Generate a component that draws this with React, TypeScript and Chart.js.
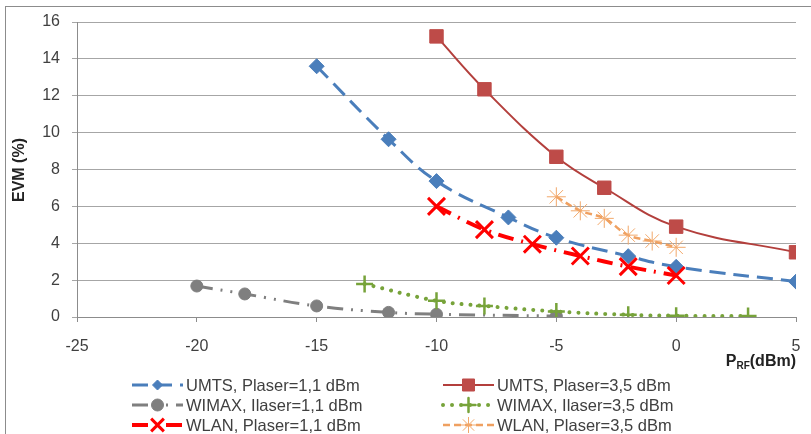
import React, { useEffect, useRef } from "react";
import { Chart, registerables } from "chart.js";
import { drawPoint } from "chart.js/helpers";

Chart.register(...registerables);

// ---- Data ----
const xTicks = [-25, -20, -15, -10, -5, 0, 5];
const yTicks = [0, 2, 4, 6, 8, 10, 12, 14, 16];

const seriesNames = [
  "UMTS, Plaser=1,1 dBm",
  "UMTS, Plaser=3,5 dBm",
  "WIMAX, Ilaser=1,1 dBm",
  "WIMAX, Ilaser=3,5 dBm",
  "WLAN, Plaser=1,1 dBm",
  "WLAN, Plaser=3,5 dBm",
];

const xUMTS11 = [-15, -12, -10, -7, -5, -2, 0, 5];
const yUMTS11 = [13.6, 9.64, 7.37, 5.4, 4.3, 3.3, 2.72, 1.92];
const xUMTS35 = [-10, -8, -5, -3, 0, 5];
const yUMTS35 = [15.22, 12.35, 8.69, 7.01, 4.9, 3.51];
const xWIMAX11 = [-20, -18, -15, -12, -10, -5];
const yWIMAX11 = [1.68, 1.25, 0.6, 0.25, 0.15, 0.05];
const xWIMAX35 = [-13, -10, -8, -5, -2, 0, 3];
const yWIMAX35 = [1.79, 0.88, 0.6, 0.3, 0.12, 0.07, 0.05];
const xWLAN11 = [-10, -8, -6, -4, -2, 0];
const yWLAN11 = [6.0, 4.74, 3.95, 3.31, 2.73, 2.25];
const xWLAN35 = [-5, -4, -3, -2, -1, 0];
const yWLAN35 = [6.52, 5.76, 5.35, 4.44, 4.12, 3.78];

const pts = (xs: number[], ys: number[]) => xs.map((x, i) => ({ x, y: ys[i] }));

const FONT = "'Liberation Sans', Arial, sans-serif";
const TEXT = "#404040";

type Style = {
  line: string;
  fill: string;
  width: number;
  dash: number[];
  cap: CanvasLineCap;
  point: string;
  radius: number;
  pw: number;
  legendRadius: number;
};

const styles: Style[] = [
  { line: "#4A7EBB", fill: "#4A7EBB", width: 3, dash: [16, 8], cap: "butt", point: "rectRot", radius: 7.5, pw: 1, legendRadius: 5 },
  { line: "#B33F3C", fill: "#BE4B48", width: 2, dash: [], cap: "butt", point: "rect", radius: 9.5, pw: 1, legendRadius: 8.5 },
  { line: "#7F7F7F", fill: "#7F7F7F", width: 3, dash: [16, 8, 2, 8, 2, 8], cap: "butt", point: "circle", radius: 6, pw: 1, legendRadius: 6 },
  { line: "#77A33A", fill: "#77A33A", width: 4, dash: [0.01, 9], cap: "round", point: "cross", radius: 8.5, pw: 2.5, legendRadius: 7 },
  { line: "#FF0000", fill: "#FF0000", width: 4, dash: [16, 8, 2, 8], cap: "butt", point: "crossRot", radius: 12, pw: 3, legendRadius: 9 },
  { line: "#EFA060", fill: "#F2A86A", width: 2.5, dash: [7, 4], cap: "butt", point: "star", radius: 9.5, pw: 1, legendRadius: 8 },
];

const seriesData = [
  pts(xUMTS11, yUMTS11),
  pts(xUMTS35, yUMTS35),
  pts(xWIMAX11, yWIMAX11),
  pts(xWIMAX35, yWIMAX35),
  pts(xWLAN11, yWLAN11),
  pts(xWLAN35, yWLAN35),
];

const decorPlugin = {
  id: "decor",
  afterDraw(chart: any) {
    const ctx: CanvasRenderingContext2D = chart.ctx;
    ctx.save();
    // outer frame
    ctx.strokeStyle = "#8c8c8c";
    ctx.lineWidth = 1;
    ctx.strokeRect(5.5, 6.5, 1000, 1000);

    // y title
    ctx.save();
    ctx.translate(20, 170);
    ctx.rotate(-Math.PI / 2);
    ctx.fillStyle = "#222";
    ctx.font = `bold 16px ${FONT}`;
    ctx.textAlign = "center";
    ctx.textBaseline = "middle";
    ctx.fillText("EVM (%)", 0, 0);
    ctx.restore();

    // x title P_RF(dBm)
    ctx.fillStyle = "#222";
    ctx.textBaseline = "alphabetic";
    ctx.textAlign = "left";
    const big = `bold 16px ${FONT}`;
    const small = `bold 10px ${FONT}`;
    ctx.font = big;
    const wP = ctx.measureText("P").width;
    const wD = ctx.measureText("(dBm)").width;
    ctx.font = small;
    const wS = ctx.measureText("RF").width;
    const right = 796;
    const base = 366;
    let x = right - (wP + wS + wD);
    ctx.font = big;
    ctx.fillText("P", x, base);
    x += wP;
    ctx.font = small;
    ctx.fillText("RF", x, base + 3);
    x += wS;
    ctx.font = big;
    ctx.fillText("(dBm)", x, base);

    // legend
    const colX = [132, 443];
    const rowY = [385, 405, 425];
    const len = 51;
    chart.data.datasets.forEach((ds: any, i: number) => {
      const st = styles[i];
      const x0 = colX[i % 2];
      const y0 = rowY[Math.floor(i / 2)];
      ctx.save();
      ctx.strokeStyle = st.line;
      ctx.lineWidth = st.width;
      ctx.lineCap = st.cap;
      ctx.setLineDash(st.dash);
      ctx.beginPath();
      ctx.moveTo(x0, y0);
      ctx.lineTo(x0 + len, y0);
      ctx.stroke();
      ctx.setLineDash([]);
      ctx.fillStyle = st.fill;
      ctx.strokeStyle = st.fill;
      ctx.lineWidth = st.pw;
      drawPoint(ctx, { pointStyle: st.point, radius: st.legendRadius, rotation: 0, borderWidth: st.pw } as any, x0 + len / 2, y0);
      ctx.restore();
      ctx.fillStyle = TEXT;
      ctx.font = `16.5px ${FONT}`;
      ctx.textAlign = "left";
      ctx.textBaseline = "middle";
      ctx.fillText(ds.label, x0 + len + 3, y0 + 1);
    });
    ctx.restore();
  },
};

export default function App() {
  const ref = useRef<HTMLCanvasElement>(null);
  useEffect(() => {
    if (!ref.current) return;
    const chart = new Chart(ref.current, {
      type: "line",
      data: {
        datasets: seriesData.map((d, i) => {
          const st = styles[i];
          return {
            label: seriesNames[i],
            data: d,
            borderColor: st.line,
            backgroundColor: st.fill,
            borderWidth: st.width,
            borderDash: st.dash,
            borderCapStyle: st.cap,
            pointStyle: st.point as any,
            pointRadius: st.radius,
            pointBorderWidth: st.pw,
            pointBackgroundColor: st.fill,
            pointBorderColor: st.fill,
            tension: 0.4,
            fill: false,
            order: 10 - i,
          };
        }),
      },
      options: {
        animation: false,
        responsive: false,
        devicePixelRatio: 1,
        layout: { padding: { left: 0, right: 14, top: 22, bottom: 0 } },
        plugins: { legend: { display: false }, tooltip: { enabled: false } },
        scales: {
          x: {
            type: "linear",
            min: -25,
            max: 5,
            afterBuildTicks: (s: any) => {
              s.ticks = xTicks.map((v) => ({ value: v }));
            },
            afterFit: (s: any) => {
              s.height = 117;
              s.paddingLeft = 0;
              s.paddingRight = 0;
            },
            grid: { drawOnChartArea: false, drawTicks: true, tickLength: 5, color: "#8c8c8c" },
            border: { display: true, color: "#8c8c8c" },
            ticks: { color: TEXT, font: { family: FONT, size: 16 }, padding: 15, maxRotation: 0 },
          },
          y: {
            type: "linear",
            min: 0,
            max: 16,
            afterBuildTicks: (s: any) => {
              s.ticks = yTicks.map((v) => ({ value: v }));
            },
            afterFit: (s: any) => {
              s.width = 77;
              s.paddingTop = 0;
              s.paddingBottom = 0;
            },
            grid: { drawOnChartArea: true, drawTicks: true, tickLength: 5, color: "#a6a6a6" },
            border: { display: true, color: "#8c8c8c" },
            ticks: { color: TEXT, font: { family: FONT, size: 16 }, padding: 12 },
          },
        },
      },
      plugins: [decorPlugin],
    });
    return () => chart.destroy();
  }, []);
  return (
    <div style={{ position: "absolute", left: 0, top: 0, width: 811, height: 434, background: "#fff" }}>
      <canvas ref={ref} width={811} height={434} style={{ display: "block" }} />
    </div>
  );
}
